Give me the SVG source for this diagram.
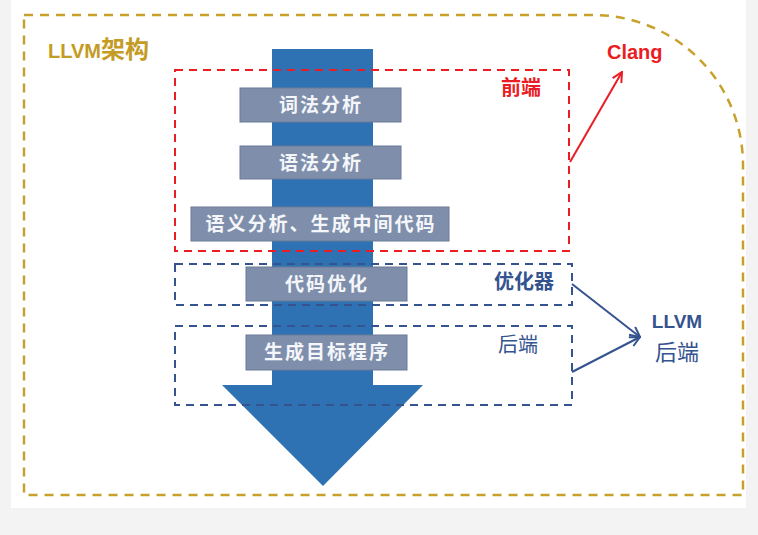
<svg xmlns="http://www.w3.org/2000/svg" width="758" height="535" viewBox="0 0 758 535">
<defs>
<style>
.cjk{font-family:"Liberation Sans","Noto Sans CJK SC",sans-serif;}
.box rect{fill:#7f8fab;stroke:#6a7b97;stroke-width:1;}
.box text{fill:#f4f6fa;font-size:19px;text-anchor:middle;letter-spacing:2px;font-weight:bold;}
.red{stroke:#ea1c24;fill:none;stroke-width:2;stroke-dasharray:8,6;}
.blu{stroke:#34538f;fill:none;stroke-width:2;stroke-dasharray:8,6;}
.gold{stroke:#c8a12c;fill:none;stroke-width:2.5;stroke-dasharray:9,7;}
.lbl{font-weight:bold;}
</style>
<marker id="ar" viewBox="0 0 12 12" refX="11" refY="6" markerWidth="12" markerHeight="12" markerUnits="userSpaceOnUse" orient="auto">
<path d="M1,1 L11,6 L1,11" fill="none" stroke="#ea1c24" stroke-width="2"/>
</marker>
<marker id="ab" viewBox="0 0 12 12" refX="11" refY="6" markerWidth="12" markerHeight="12" markerUnits="userSpaceOnUse" orient="auto">
<path d="M1,1 L11,6 L1,11" fill="none" stroke="#34538f" stroke-width="2"/>
</marker>
</defs>
<rect x="0" y="0" width="758" height="535" fill="#f3f3f3"/>
<rect x="11" y="0" width="735" height="508" fill="#ffffff"/>

<g id="frame">
<path class="gold" d="M24,15 H593 A150,150 0 0 1 743,165 V495 H24 Z"/>
<text class="cjk lbl" x="48" y="58" fill="#c49b24"><tspan font-size="20">LLVM</tspan><tspan font-size="24">架构</tspan></text>
</g>

<g id="flow-arrow">
<path d="M272,49 H373 V385 H423 L323,486 L222,385 H272 Z" fill="#2f72b4"/>
</g>

<g id="frontend">
<rect class="red" x="175" y="70" width="394" height="181"/>
<text class="cjk lbl" x="521" y="95" font-size="20" fill="#ea1c24" text-anchor="middle">前端</text>
</g>
<g id="optimizer">
<rect class="blu" x="175" y="264" width="397" height="41"/>
<text class="cjk" x="524" y="289" font-size="20" font-weight="600" fill="#34538f" text-anchor="middle">优化器</text>
</g>
<g id="backend">
<rect class="blu" x="175" y="326" width="397" height="79"/>
<text class="cjk" x="518" y="352" font-size="20" fill="#34538f" text-anchor="middle">后端</text>
</g>

<g id="lex" class="box cjk"><rect x="240" y="88" width="161" height="34"/><text x="321" y="112">词法分析</text></g>
<g id="syntax" class="box cjk"><rect x="240" y="146" width="161" height="33"/><text x="321" y="170">语法分析</text></g>
<g id="semantic" class="box cjk"><rect x="191" y="207" width="258" height="34"/><text x="321" y="231">语义分析、生成中间代码</text></g>
<g id="opt" class="box cjk"><rect x="246" y="267" width="161" height="34"/><text x="327" y="291">代码优化</text></g>
<g id="codegen" class="box cjk"><rect x="246" y="335" width="161" height="35"/><text x="327" y="359">生成目标程序</text></g>

<g id="clang"><text class="cjk lbl" x="607" y="59" font-size="20" fill="#ea1c24">Clang</text></g>
<g id="llvm-backend">
<text class="cjk lbl" x="677" y="328" font-size="19" fill="#34538f" text-anchor="middle">LLVM</text>
<text class="cjk" x="677" y="360" font-size="22" fill="#34538f" text-anchor="middle">后端</text>
</g>

<g id="connectors">
<line x1="570" y1="162" x2="622" y2="72" stroke="#ea1c24" stroke-width="2" marker-end="url(#ar)"/>
<line x1="572" y1="284" x2="640" y2="337" stroke="#34538f" stroke-width="2" marker-end="url(#ab)"/>
<line x1="572" y1="372" x2="640" y2="337" stroke="#34538f" stroke-width="2" marker-end="url(#ab)"/>
</g>
</svg>
